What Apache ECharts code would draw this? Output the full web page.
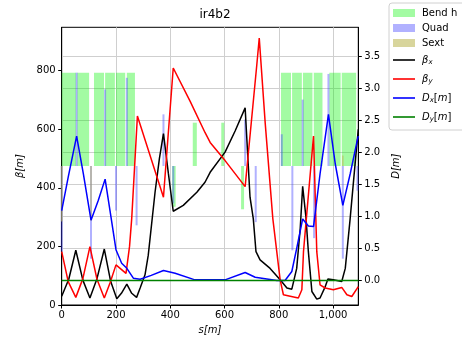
<!DOCTYPE html>
<html>
<head>
<meta charset="utf-8">
<script src="https://cdn.jsdelivr.net/npm/echarts@6/dist/echarts.min.js"></script>
<style>
  html, body { margin: 0; padding: 0; background: #fff; }
  #peak { width: 462px; height: 340px; }
</style>
</head>
<body>
<div id="peak"></div>
<script>
// lattice elements (s in m, D-axis units)
const bendStart = [0, 57, 119, 160, 200, 240, 808, 849, 889, 929, 986, 1032, 407, 483, 588, 661];
const bendEnd   = [53, 101, 156, 196, 234, 270, 845, 885, 924, 961, 1028, 1085, 420, 498, 599, 672];
const bendLow   = [1.785, 1.785, 1.785, 1.785, 1.785, 1.785, 1.785, 1.785, 1.785, 1.785, 1.785, 1.785, 1.15, 1.785, 1.785, 1.11];
const bendHigh  = [3.24, 3.24, 3.24, 3.24, 3.24, 3.24, 3.24, 3.24, 3.24, 3.24, 3.24, 3.24, 1.785, 2.46, 2.46, 1.785];

const quadS = [0, 55, 108, 160, 200, 240, 276, 375, 411, 676, 715, 811, 850, 888, 930, 983, 1036, 1090];
const quadD = [0.45, 3.24, 0.34, 2.98, 1.09, 3.16, 0.86, 2.59, 1.2, 2.51, 0.91, 2.28, 0.47, 2.82, 0.66, 3.22, 0.34, 1.40];

const sextS = [0, 108, 1036];
const sextD = [0.92, 0.93, 1.95];

// optics
const bxS = [0, 26, 52, 78, 104, 130, 157, 180, 203, 220, 240, 258, 276, 289, 307, 319, 344, 360, 375, 393, 411, 448, 498, 528, 547, 602, 639, 676, 694, 706, 716, 731, 768, 805, 830, 848, 866, 879, 888, 900, 909, 922, 940, 952, 970, 981, 1001, 1032, 1045, 1063, 1080, 1093];
const bxV = [30, 88, 187, 85, 24, 90, 191, 82, 21, 40, 71, 40, 26, 58, 103, 170, 385, 500, 585, 450, 320, 340, 385, 419, 453, 522, 594, 673, 368, 295, 182, 154, 125, 86, 58, 54, 125, 261, 405, 300, 182, 46, 20, 24, 60, 89, 86, 80, 125, 295, 470, 600];

const byS = [0, 24, 52, 78, 104, 130, 157, 178, 200, 237, 250, 258, 279, 375, 411, 473, 528, 547, 602, 676, 719, 728, 750, 778, 805, 817, 842, 872, 885, 891, 928, 940, 952, 971, 1001, 1032, 1051, 1069, 1093];
const byV = [182, 80, 26, 90, 199, 88, 24, 75, 137, 108, 200, 295, 645, 368, 809, 696, 589, 555, 493, 404, 820, 911, 620, 295, 86, 35, 30, 24, 52, 182, 577, 182, 69, 58, 52, 60, 35, 29, 63];

const dxS = [0, 24, 55, 80, 108, 135, 160, 178, 200, 221, 240, 264, 289, 330, 375, 418, 491, 602, 676, 713, 793, 823, 848, 866, 888, 909, 928, 952, 983, 1008, 1036, 1063, 1090, 1093];
const dxV = [1.09, 1.61, 2.25, 1.66, 0.94, 1.25, 1.58, 1.09, 0.48, 0.27, 0.19, 0.036, 0.02, 0.08, 0.155, 0.113, 0.01, 0.01, 0.124, 0.05, 0.0, 0.0, 0.14, 0.5, 0.96, 0.85, 0.84, 1.66, 2.59, 1.82, 1.17, 1.66, 2.2, 2.25];

const dyS = [0, 1093];
const dyV = [0, 0];

const xTicks = [0, 200, 400, 600, 800, 1000];
const betaTicks = [0, 200, 400, 600, 800];
const dTicks = [0, 0.5, 1, 1.5, 2, 2.5, 3, 3.5];

const ELEM_BASE = 1.785;
const FONT = 'DejaVu Sans';
const LINE_ICON = 'path://M0,0L22,0L22,1.6L0,1.6Z';

function pairs(xs, ys) {
  return xs.map((x, i) => [x, ys[i]]);
}

function renderBend(params, api) {
  const a = api.coord([api.value(0), api.value(3)]);
  const b = api.coord([api.value(1), api.value(2)]);
  return {
    type: 'rect',
    shape: { x: a[0], y: a[1], width: b[0] - a[0], height: b[1] - a[1] },
    style: { fill: api.visual('color') }
  };
}

function thinBar(w) {
  return function (params, api) {
    const top = api.coord([api.value(0), api.value(1)]);
    const base = api.coord([api.value(0), ELEM_BASE]);
    return {
      type: 'rect',
      shape: { x: top[0] - w / 2, y: Math.min(top[1], base[1]), width: w, height: Math.abs(base[1] - top[1]) },
      style: { fill: api.visual('color') }
    };
  };
}

const legendNames = {
  'Bend h': 'Bend h',
  'Quad': 'Quad',
  'Sext': 'Sext',
  'bx': '{i|β}{s|x}',
  'by': '{i|β}{s|y}',
  'Dx': '{i|D}{s|x}{n|[}{i|m}{n|]}',
  'Dy': '{i|D}{s|y}{n|[}{i|m}{n|]}'
};

const chart = echarts.init(document.querySelector('#peak'));

const option = {
  animation: false,
  textStyle: { fontFamily: FONT },
  title: {
    text: 'ir4b2',
    left: 210,
    top: 4,
    textAlign: 'center',
    textStyle: { fontFamily: FONT, fontSize: 12, fontWeight: 'normal', color: '#000' }
  },
  legend: {
    orient: 'vertical',
    left: 389,
    top: 3,
    padding: [4, 8, 5, 4],
    itemWidth: 22,
    itemHeight: 8,
    itemGap: 3,
    backgroundColor: 'rgba(255,255,255,0.9)',
    borderColor: '#d0d0d0',
    borderWidth: 1,
    borderRadius: 3,
    data: [
      { name: 'Bend h', icon: 'rect' },
      { name: 'Quad', icon: 'rect' },
      { name: 'Sext', icon: 'rect' },
      { name: 'bx', icon: LINE_ICON },
      { name: 'by', icon: LINE_ICON },
      { name: 'Dx', icon: LINE_ICON },
      { name: 'Dy', icon: LINE_ICON }
    ],
    formatter: name => legendNames[name],
    textStyle: {
      fontFamily: FONT,
      fontSize: 10,
      lineHeight: 12,
      color: '#000',
      padding: [0, 0, 0, 2],
      rich: {
        i: { fontFamily: FONT, fontSize: 10, lineHeight: 16, fontStyle: 'italic', color: '#000' },
        n: { fontFamily: FONT, fontSize: 10, lineHeight: 16, color: '#000' },
        s: { fontFamily: FONT, fontSize: 7, lineHeight: 16, fontStyle: 'italic', color: '#000', padding: [5, 0, 0, 0] }
      }
    }
  },
  grid: {
    left: 61.7,
    right: 103.7,
    top: 27.3,
    bottom: 33,
    show: true,
    borderColor: '#000',
    borderWidth: 1
  },
  xAxis: {
    type: 'value',
    min: 0,
    max: 1093,
    name: 's[m]',
    nameLocation: 'middle',
    nameGap: 20,
    nameTextStyle: { fontFamily: FONT, fontSize: 10, fontStyle: 'italic', color: '#000' },
    axisLine: { lineStyle: { color: '#000' } },
    axisTick: { length: 3.5, customValues: xTicks, lineStyle: { color: '#000' } },
    axisLabel: { customValues: xTicks, fontFamily: FONT, fontSize: 10, color: '#000', margin: 5 },
    splitLine: { show: true, lineStyle: { color: '#cfcfcf', width: 1 } }
  },
  yAxis: [
    {
      type: 'value',
      position: 'left',
      min: 0,
      max: 948,
      name: 'β[m]',
      nameLocation: 'middle',
      nameRotate: 90,
      nameGap: 36,
      nameTextStyle: { fontFamily: FONT, fontSize: 10, fontStyle: 'italic', color: '#000' },
      axisLine: { show: true, lineStyle: { color: '#000' } },
      axisTick: { show: true, length: 3.5, customValues: betaTicks, lineStyle: { color: '#000' } },
      axisLabel: { customValues: betaTicks, fontFamily: FONT, fontSize: 10, color: '#000', margin: 6 },
      splitLine: { show: false }
    },
    {
      type: 'value',
      position: 'right',
      min: -0.382,
      max: 3.947,
      name: 'D[m]',
      nameLocation: 'middle',
      nameRotate: 90,
      nameGap: 30,
      nameTextStyle: { fontFamily: FONT, fontSize: 10, fontStyle: 'italic', color: '#000' },
      axisLine: { show: true, lineStyle: { color: '#000' } },
      axisTick: { show: true, length: 3.5, customValues: dTicks, lineStyle: { color: '#000' } },
      axisLabel: {
        customValues: dTicks,
        fontFamily: FONT,
        fontSize: 10,
        color: '#000',
        margin: 6,
        formatter: v => v.toFixed(1)
      },
      splitLine: { show: true, lineStyle: { color: '#cfcfcf', width: 1 } }
    }
  ],
  series: [
    {
      name: 'Bend h',
      type: 'custom',
      yAxisIndex: 1,
      renderItem: renderBend,
      itemStyle: { color: 'rgba(0,245,0,0.36)' },
      encode: { x: [0, 1], y: [2, 3] },
      data: bendStart.map((s, i) => [s, bendEnd[i], bendLow[i], bendHigh[i]]),
      z: 1
    },
    {
      name: 'Quad',
      type: 'custom',
      yAxisIndex: 1,
      renderItem: thinBar(2),
      itemStyle: { color: 'rgba(60,60,255,0.4)' },
      encode: { x: 0, y: 1 },
      data: pairs(quadS, quadD),
      z: 2
    },
    {
      name: 'Sext',
      type: 'custom',
      yAxisIndex: 1,
      renderItem: thinBar(1.6),
      itemStyle: { color: 'rgba(190,185,90,0.6)' },
      encode: { x: 0, y: 1 },
      data: pairs(sextS, sextD),
      z: 3
    },
    {
      name: 'bx', type: 'line', yAxisIndex: 0, symbol: 'none',
      lineStyle: { color: '#000', width: 1.5 }, itemStyle: { color: '#000' },
      data: pairs(bxS, bxV), z: 5
    },
    {
      name: 'by', type: 'line', yAxisIndex: 0, symbol: 'none',
      lineStyle: { color: '#ff0000', width: 1.5 }, itemStyle: { color: '#ff0000' },
      data: pairs(byS, byV), z: 6
    },
    {
      name: 'Dx', type: 'line', yAxisIndex: 1, symbol: 'none',
      lineStyle: { color: '#0000ff', width: 1.5 }, itemStyle: { color: '#0000ff' },
      data: pairs(dxS, dxV), z: 7
    },
    {
      name: 'Dy', type: 'line', yAxisIndex: 1, symbol: 'none',
      lineStyle: { color: '#008000', width: 1.5 }, itemStyle: { color: '#008000' },
      data: pairs(dyS, dyV), z: 8
    }
  ]
};

chart.setOption(option);
</script>
</body>
</html>
